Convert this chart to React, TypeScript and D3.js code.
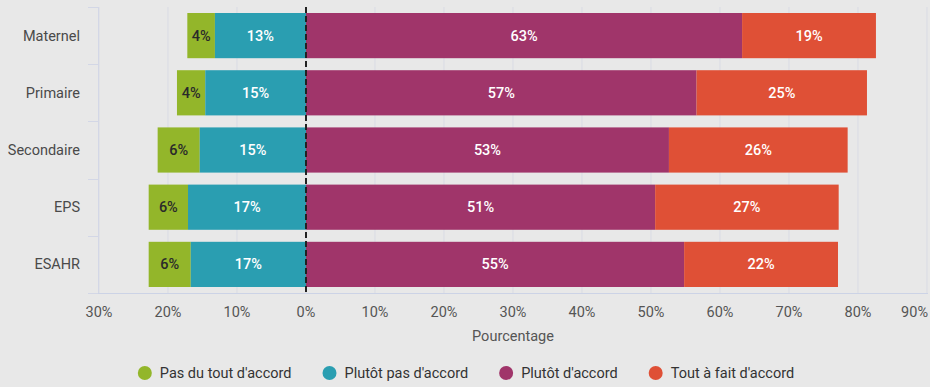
import React, { useEffect, useRef } from "react";
import * as d3 from "d3";

const categories = ["Maternel", "Primaire", "Secondaire", "EPS", "ESAHR"];
const seriesNames = ["Pas du tout d'accord", "Plutôt pas d'accord", "Plutôt d'accord", "Tout à fait d'accord"];
const pasDuTout = [4.0, 4.1, 6.1, 5.7, 6.1];
const plutotPas = [13.2, 14.6, 15.4, 17.1, 16.7];
const plutot = [63.2, 56.6, 52.6, 50.6, 54.8];
const toutAFait = [19.4, 24.7, 25.9, 26.6, 22.3];
const xTicks = [-30, -20, -10, 0, 10, 20, 30, 40, 50, 60, 70, 80, 90];
const colors = ["#93b62a", "#2a9eb1", "#a0356a", "#df5036"];
const labelColors = ["#2a2a2a", "#ffffff", "#ffffff", "#ffffff"];

const W = 930;
const H = 387;
const FONT = "Roboto, 'Noto Sans', sans-serif";

export default function App() {
  const ref = useRef<SVGSVGElement>(null);

  useEffect(() => {
    const svg = d3.select(ref.current);
    svg.selectAll("*").remove();

    const x = d3.scaleLinear().domain([-30, 90]).range([99, 927]);
    const y = d3.scaleBand().domain(categories).range([7, 293]).paddingInner(0.21).paddingOuter(0.105);

    svg.append("rect").attr("width", W).attr("height", H).attr("fill", "#e8e8e8");

    // grid
    svg.append("g").selectAll("line").data(xTicks).join("line")
      .attr("x1", d => x(d)).attr("x2", d => x(d))
      .attr("y1", 7).attr("y2", 293)
      .attr("stroke", "#d9dbe4").attr("stroke-width", 1);

    // left axis line and category ticks
    svg.append("line").attr("x1", 98.5).attr("x2", 98.5).attr("y1", 7).attr("y2", 293)
      .attr("stroke", "#d3d7e6");
    const step = y.step();
    const bounds = d3.range(categories.length + 1).map(i => 7 + i * step);
    svg.append("g").selectAll("line").data(bounds).join("line")
      .attr("x1", 88).attr("x2", 98)
      .attr("y1", d => Math.round(d) + 0.5).attr("y2", d => Math.round(d) + 0.5)
      .attr("stroke", "#d3d7e6");
    // bottom axis line
    svg.append("line").attr("x1", 98).attr("x2", 928).attr("y1", 293.5).attr("y2", 293.5)
      .attr("stroke", "#ccd3e6");

    // stacked data
    const segs: { cat: string; s: number; x0: number; x1: number; v: number }[] = [];
    categories.forEach((c, i) => {
      const a = pasDuTout[i], b = plutotPas[i], p = plutot[i], t = toutAFait[i];
      segs.push({ cat: c, s: 0, x0: -(a + b), x1: -b, v: a });
      segs.push({ cat: c, s: 1, x0: -b, x1: 0, v: b });
      segs.push({ cat: c, s: 2, x0: 0, x1: p, v: p });
      segs.push({ cat: c, s: 3, x0: p, x1: p + t, v: t });
    });

    const g = svg.append("g");
    g.selectAll("rect").data(segs).join("rect")
      .attr("x", d => x(d.x0)).attr("width", d => x(d.x1) - x(d.x0))
      .attr("y", d => y(d.cat)!).attr("height", y.bandwidth())
      .attr("fill", d => colors[d.s]);

    g.selectAll("text").data(segs).join("text")
      .attr("x", d => (x(d.x0) + x(d.x1)) / 2)
      .attr("y", d => y(d.cat)! + y.bandwidth() / 2)
      .attr("dy", "0.35em")
      .attr("text-anchor", "middle")
      .attr("font-family", FONT).attr("font-size", 14.5).attr("font-weight", 500)
      .attr("fill", d => labelColors[d.s])
      .text(d => `${Math.round(d.v)}%`);

    // zero dashed line
    svg.append("line").attr("x1", x(0)).attr("x2", x(0)).attr("y1", 7).attr("y2", 293)
      .attr("stroke", "#222").attr("stroke-width", 2).attr("stroke-dasharray", "6,3");

    // category labels
    svg.append("g").selectAll("text").data(categories).join("text")
      .attr("x", 80).attr("y", d => y(d)! + y.bandwidth() / 2).attr("dy", "0.35em")
      .attr("text-anchor", "end").attr("font-family", FONT).attr("font-size", 14.5)
      .attr("fill", "#4a4a4a").text(d => d);

    // x tick labels
    const tl = svg.append("g").selectAll("text").data(xTicks).join("text")
      .attr("x", d => x(d)).attr("y", 312).attr("dy", "0.35em")
      .attr("text-anchor", "middle").attr("font-family", FONT).attr("font-size", 14.5)
      .attr("fill", "#555").text(d => `${Math.abs(d)}%`);
    tl.each(function () {
      const el = this as SVGTextElement;
      const bb = el.getBBox();
      if (bb.x + bb.width > 928) {
        d3.select(el).attr("x", +d3.select(el).attr("x") - (bb.x + bb.width - 928));
      }
    });

    // axis title
    svg.append("text").attr("x", (x(-30) + x(90)) / 2).attr("y", 336).attr("dy", "0.35em")
      .attr("text-anchor", "middle").attr("font-family", FONT).attr("font-size", 14.5)
      .attr("fill", "#555").text("Pourcentage");

    // legend
    const lg = svg.append("g");
    let cx = 0;
    seriesNames.forEach((name, i) => {
      const item = lg.append("g");
      item.append("circle").attr("cx", cx).attr("cy", 0).attr("r", 7).attr("fill", colors[i]);
      const t = item.append("text").attr("x", cx + 15).attr("y", 0).attr("dy", "0.35em")
        .attr("font-family", FONT).attr("font-size", 14.5).attr("fill", "#333").text(name);
      const w = (t.node() as SVGTextElement).getComputedTextLength();
      cx += 15 + w + 38;
    });
    const bb = (lg.node() as SVGGElement).getBBox();
    const targetCenter = 466;
    lg.attr("transform", `translate(${targetCenter - (bb.x + bb.width / 2)},373)`);
  }, []);

  return (
    <svg ref={ref} width={W} height={H} style={{ position: "absolute", left: 0, top: 0, display: "block" }} />
  );
}
